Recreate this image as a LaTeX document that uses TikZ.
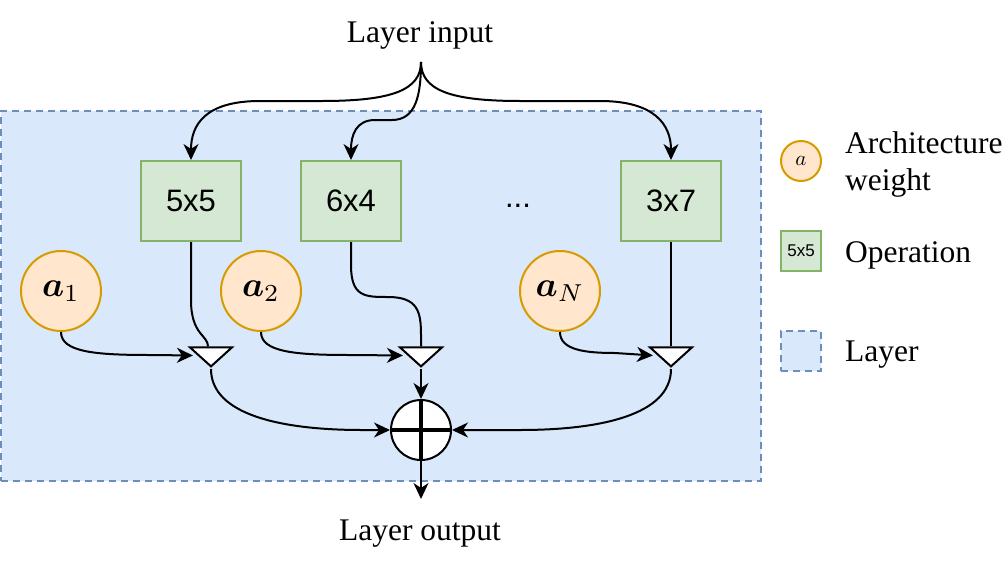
\RequirePackage{fix-cm}
\documentclass[tikz,border=0pt]{standalone}
\usepackage{amsmath}
\usepackage{fontspec}
\setmainfont{Liberation Serif}
\setsansfont{Liberation Sans}
\usetikzlibrary{arrows.meta}
\usetikzlibrary{shapes.geometric}

\definecolor{layerfill}{HTML}{DAE8FC}
\definecolor{layerline}{HTML}{6C8EBF}
\definecolor{opfill}{HTML}{D5E8D4}
\definecolor{opline}{HTML}{82B366}
\definecolor{wfill}{HTML}{FFE6CC}
\definecolor{wline}{HTML}{D79B00}

\begin{document}
\begin{tikzpicture}[x=1pt,y=-1pt,
    layerbox/.style={draw=layerline,fill=layerfill,line width=2pt,dash pattern=on 7pt off 5pt,inner sep=0pt},
    op/.style={draw=opline,fill=opfill,line width=2pt,minimum width=100pt,minimum height=80pt,inner sep=0pt,font=\sffamily\fontsize{31}{31}\selectfont},
    weight/.style={circle,draw=wline,fill=wfill,line width=2pt,minimum size=80pt,inner sep=0pt,font=\fontsize{10}{12}\selectfont},
    mult/.style={isosceles triangle,shape border rotate=-90,isosceles triangle stretches,draw,fill=white,line width=2pt,minimum width=42pt,minimum height=19pt,inner sep=0pt},
    sum/.style={circle,draw,fill=white,line width=2pt,minimum size=60pt,inner sep=0pt,
      path picture={\draw[line width=4pt] (path picture bounding box.north) -- (path picture bounding box.south)
        (path picture bounding box.west) -- (path picture bounding box.east);}},
    wire/.style={line width=2pt,-{Stealth[length=16pt,width=15pt,inset=5pt]}},
    txt/.style={font=\fontsize{31.5}{37}\selectfont}]

    \useasboundingbox (0,0) rectangle (1006,562);

    % layer region
    \node[layerbox,minimum width=760pt,minimum height=370pt] (layer) at (381,296) {};

    % operations
    \node[op] (op1) at (191,201) {5x5};
    \node[op] (op2) at (351,201) {6x4};
    \node[op] (op3) at (671,201) {3x7};
    \node[font=\sffamily\fontsize{31}{31}\selectfont] (dots) at (518,206) {...};

    % architecture weights
    \node[weight] (a1) at (61,291) {\scalebox{3.5}{$\boldsymbol{a}_1$}};
    \node[weight] (a2) at (261,291) {\scalebox{3.5}{$\boldsymbol{a}_2$}};
    \node[weight] (aN) at (560,291) {\scalebox{3.5}{$\boldsymbol{a}_N$}};

    % multiplications and sum
    \node[mult,anchor=apex] (m1) at (211,369) {};
    \node[mult,anchor=apex] (m2) at (421,369) {};
    \node[mult,anchor=apex] (m3) at (671,369) {};
    \node[sum] (sum) at (421,430) {};

    % input and output
    \node[txt,anchor=base] (in) at (420,42) {Layer input};
    \node[txt,anchor=base] (out) at (420,540) {Layer output};
    \coordinate (fork) at (421,62);
    \coordinate (outend) at (421,499);

    % input to operations
    \draw[wire] (fork) .. controls (421,90) and (392,101) .. (322,101) -- (260,101)
      .. controls (205,101) and (191,125) .. (op1.north);
    \draw[wire] (fork) .. controls (421,95) and (416,120) .. (392,120) -- (375,120)
      .. controls (356,120) and (351,135) .. (op2.north);
    \draw[wire] (fork) .. controls (421,90) and (450,101) .. (520,101) -- (600,101)
      .. controls (655,101) and (671,125) .. (op3.north);

    % operations to multiplications
    \draw[line width=2pt] (op1.south) -- (191,300) .. controls (191,335) and (208,335) .. ([xshift=-3pt]m1.north);
    \draw[line width=2pt] (op2.south) -- (351,265) .. controls (351,297) and (365,297) .. (388,297)
      .. controls (418,297) and (421,312) .. (421,335) -- (m2.north);
    \draw[line width=2pt] (op3.south) -- (m3.north);

    % weights to multiplications
    \draw[wire] (a1.south) .. controls (61,352) and (95,355) .. (150,355) -- ([xshift=-4pt]m1.west);
    \draw[wire] (a2.south) .. controls (261,352) and (295,355) .. (350,355) -- ([xshift=-4pt]m2.west);
    \draw[wire] (aN.south) .. controls (560,350) and (585,353) .. (615,353) -- ([xshift=-4pt]m3.west);

    % multiplications to sum
    \draw[wire] (m1.apex) .. controls (211,415) and (282,430) .. (362,430) -- (sum.west);
    \draw[wire] (m2.apex) -- (sum.north);
    \draw[wire] (m3.apex) .. controls (671,415) and (600,430) .. (520,430) -- (sum.east);
    \draw[wire] (sum.south) -- (outend);

    % legend
    \node[weight,minimum size=40pt] (lw) at (801,161) {\scalebox{2.1}{$a$}};
    \node[op,minimum width=40pt,minimum height=40pt,font=\sffamily\fontsize{17}{17}\selectfont] (lop) at (801,251) {5x5};
    \node[layerbox,minimum size=40pt] (llayer) at (801,351) {};
    \node[txt,anchor=base west,inner sep=0pt] (lwtext) at (845,153) {Architecture};
    \node[txt,anchor=base west,inner sep=0pt] (lwtext2) at (845,190) {weight};
    \node[txt,anchor=base west,inner sep=0pt] (loptext) at (845,262) {Operation};
    \node[txt,anchor=base west,inner sep=0pt] (llayertext) at (845,361) {Layer};
  \end{tikzpicture}
\end{document}
